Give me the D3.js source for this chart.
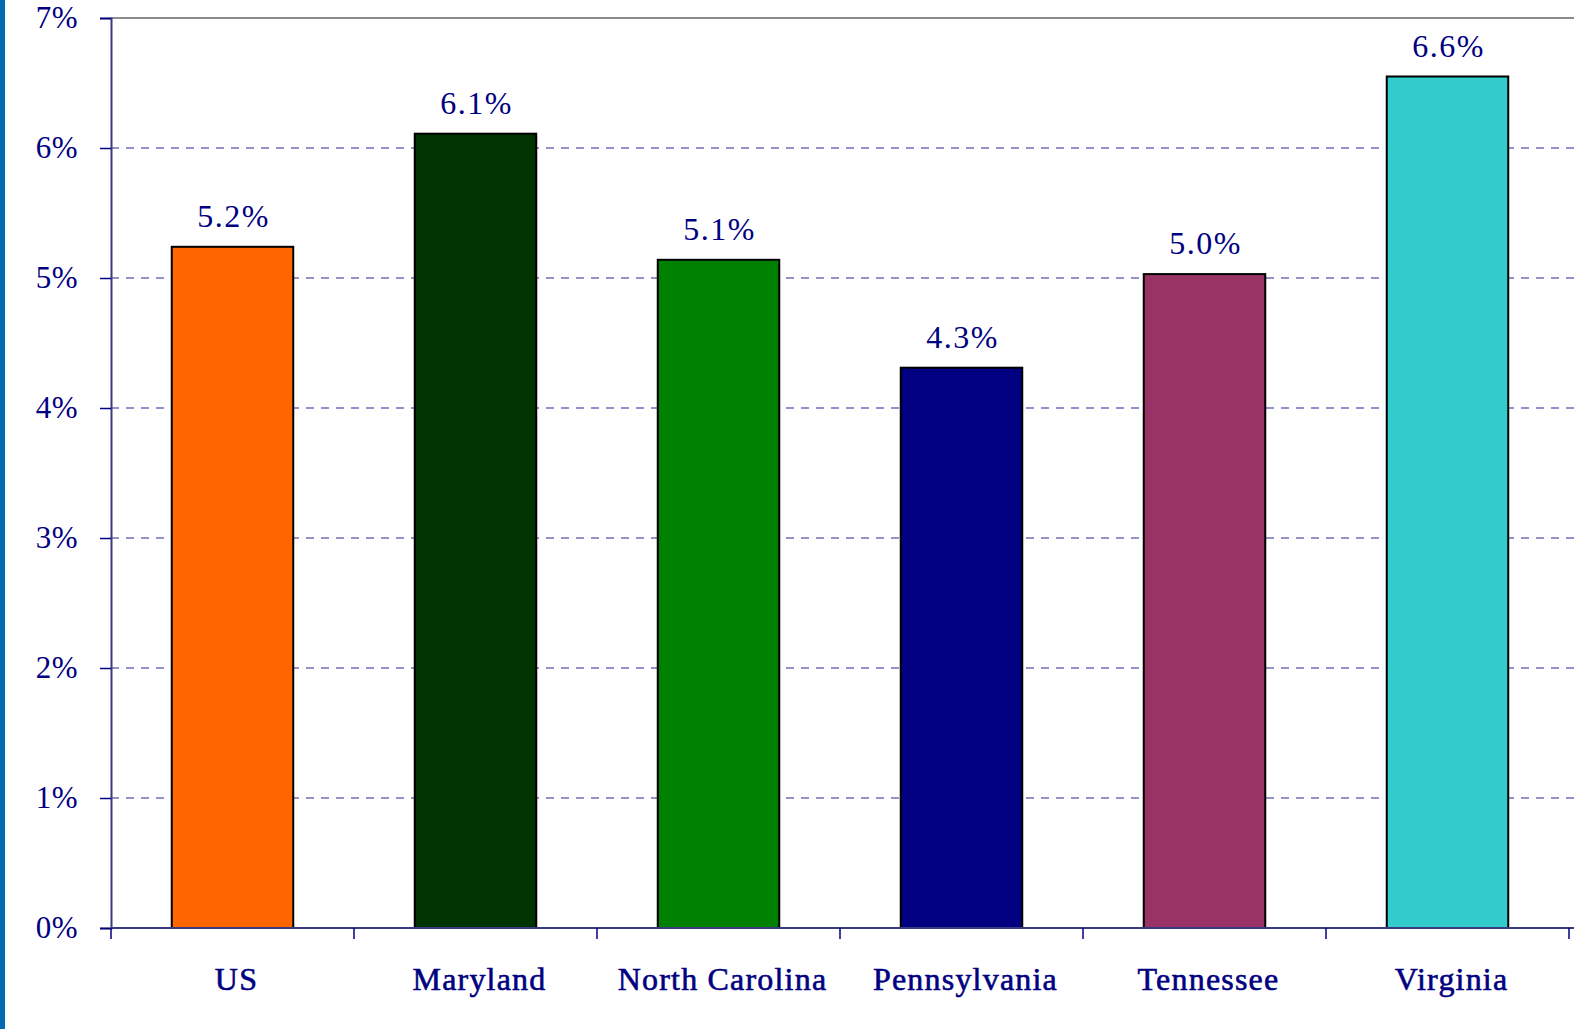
<!DOCTYPE html>
<html>
<head>
<meta charset="utf-8">
<script src="https://cdn.jsdelivr.net/npm/d3@7"></script>
<style>
    html, body { margin: 0; padding: 0; background: #ffffff; overflow: hidden; }
    svg { display: block; }
    .serif { font-family: "Liberation Serif", "Times New Roman", Times, serif; }
</style>
</head>
<body>
<div id="chart"></div>
<script>
// chart data
const categories = ["US", "Maryland", "North Carolina", "Pennsylvania", "Tennessee", "Virginia"];
const values = [5.24, 6.11, 5.14, 4.31, 5.03, 6.55];
const value_labels = ["5.2%", "6.1%", "5.1%", "4.3%", "5.0%", "6.6%"];
const bar_colors = ["#ff6600", "#003300", "#008000", "#000080", "#993366", "#33cccc"];
const y_ticks = [0, 1, 2, 3, 4, 5, 6, 7];

const full_width = 1574, full_height = 1029;
const margin = {top: 18, right: 5, bottom: 101, left: 111};
const width = full_width - margin.left - margin.right;
const height = full_height - margin.top - margin.bottom;
const navy = "#000080";

const svg = d3.select("#chart").append("svg")
    .attr("width", full_width)
    .attr("height", full_height);

// blue strip on the left edge
svg.append("rect")
    .attr("x", 0).attr("y", 0)
    .attr("width", 5).attr("height", full_height)
    .attr("fill", "#006ab4");

const g = svg.append("g")
    .attr("transform", "translate(" + margin.left + "," + margin.top + ")");

const x = d3.scaleBand()
    .domain(categories)
    .range([0, width])
    .paddingInner(0.5)
    .paddingOuter(0.25);

const y = d3.scaleLinear()
    .domain([0, 7])
    .range([height, 0]);

// grid lines
g.append("g")
    .selectAll("line")
    .data(y_ticks.filter(t => t > 0 && t < 7))
    .enter()
    .append("line")
    .attr("x1", 0).attr("x2", width + margin.right)
    .attr("y1", d => y(d)).attr("y2", d => y(d))
    .attr("stroke", "#6f6fbd")
    .attr("stroke-width", 1.3)
    .attr("stroke-dasharray", "8,7");

// top border
g.append("line")
    .attr("x1", 0).attr("x2", width + margin.right)
    .attr("y1", 0).attr("y2", 0)
    .attr("stroke", "#8c8c8c")
    .attr("stroke-width", 2);

// bars
g.append("g")
    .selectAll("rect")
    .data(categories)
    .enter()
    .append("rect")
    .attr("x", d => x(d))
    .attr("y", (d, i) => y(values[i]))
    .attr("width", x.bandwidth())
    .attr("height", (d, i) => height - y(values[i]))
    .attr("fill", (d, i) => bar_colors[i])
    .attr("stroke", "#000000")
    .attr("stroke-width", 2);

// value labels
g.append("g")
    .selectAll("text")
    .data(categories)
    .enter()
    .append("text")
    .attr("class", "serif")
    .attr("x", d => x(d) + x.bandwidth() / 2 + 1)
    .attr("y", (d, i) => y(values[i]) - 20)
    .attr("text-anchor", "middle")
    .attr("font-size", 32)
    .attr("letter-spacing", 1.5)
    .attr("fill", navy)
    .text((d, i) => value_labels[i]);

// y axis
const y_axis = g.append("g")
    .call(d3.axisLeft(y)
        .tickValues(y_ticks)
        .tickFormat(d => d + "%")
        .tickSize(11)
        .tickPadding(22));
y_axis.attr("font-family", null);
y_axis.select(".domain").attr("stroke", "#3a3a80").attr("stroke-width", 2);
y_axis.selectAll(".tick line").attr("stroke", navy).attr("stroke-width", 1.5);
y_axis.selectAll(".tick text")
    .attr("class", "serif")
    .attr("font-size", 31)
    .attr("letter-spacing", 0.5)
    .attr("fill", navy);

// x axis
const x_axis = g.append("g")
    .attr("transform", "translate(0," + height + ")");
x_axis.append("line")
    .attr("x1", 0).attr("x2", width + margin.right)
    .attr("stroke", "#3a3a80")
    .attr("stroke-width", 2);
x_axis.selectAll(".sep")
    .data(d3.range(categories.length + 1))
    .enter()
    .append("line")
    .attr("class", "sep")
    .attr("x1", i => i * x.step()).attr("x2", i => i * x.step())
    .attr("y1", 0).attr("y2", 11)
    .attr("stroke", navy)
    .attr("stroke-width", 1.5);
x_axis.selectAll(".cat")
    .data(categories)
    .enter()
    .append("text")
    .attr("class", "serif")
    .attr("x", d => x(d) + x.bandwidth() / 2 + 4)
    .attr("y", 62)
    .attr("text-anchor", "middle")
    .attr("font-size", 32)
    .attr("letter-spacing", 1.2)
    .attr("fill", navy)
    .attr("stroke", navy)
    .attr("stroke-width", 0.6)
    .text(d => d);
</script>
</body>
</html>
